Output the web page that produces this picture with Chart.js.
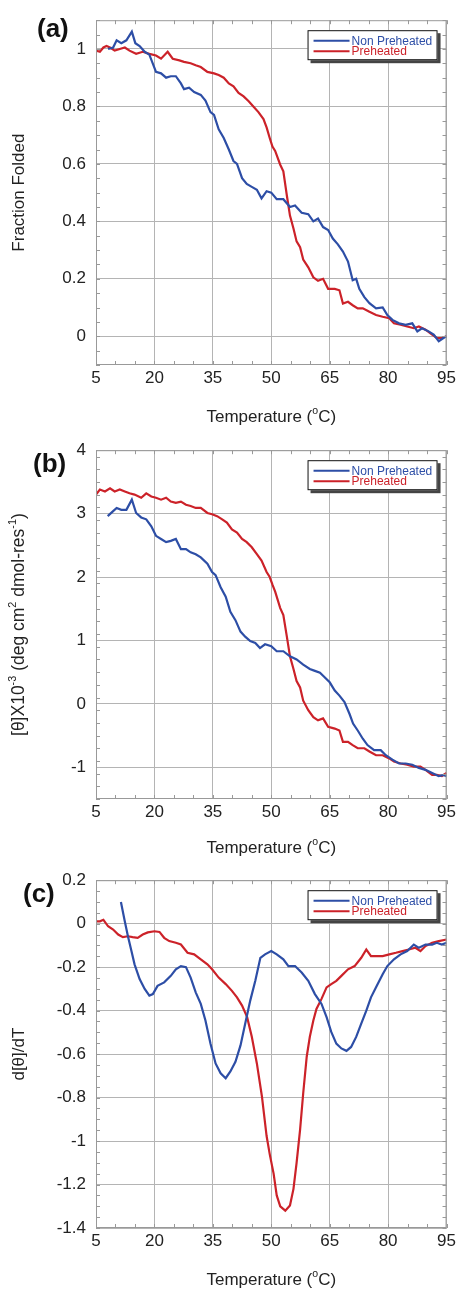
<!DOCTYPE html>
<html>
<head>
<meta charset="utf-8">
<script src="https://cdn.jsdelivr.net/npm/chart.js@4.4.1/dist/chart.umd.min.js"></script>
<style>
  html, body { margin: 0; padding: 0; background: #fff; }
  .panel { position: relative; width: 459px; }
</style>
</head>
<body>
<div class="panel" style="height:430px"><canvas id="chartA"></canvas></div>
<div class="panel" style="height:430px"><canvas id="chartB"></canvas></div>
<div class="panel" style="height:429px"><canvas id="chartC"></canvas></div>
<script>
// temperature axis
const tempTicks = [5, 20, 35, 50, 65, 80, 95];

// (a) fraction folded
const aNonT = [8.1, 9.4, 10.3, 11.5, 12.8, 14.2, 15.1, 16.2, 17.5, 18.7, 20.4, 21.7, 23, 24.2, 25.5, 26.8, 27.6, 28.9, 30.2, 31.9, 33.1, 34.4, 35.3, 36.5, 37.8, 39.1, 40.3, 41.2, 42.5, 43.7, 45, 46.3, 47.5, 48.8, 50, 51.4, 53.1, 54.8, 56.1, 57.8, 59.5, 60.8, 62, 63.3, 64.6, 65.8, 67.1, 68.4, 69.7, 70.9, 71.8, 72.6, 73.9, 75.2, 76.9, 78.6, 79.8, 81.1, 82.8, 84.5, 86.2, 87.5, 88.7, 90.4, 91.7, 93, 94.2, 95];
const aNonY = [1.0, 1.005, 1.03, 1.02, 1.03, 1.06, 1.02, 1.01, 0.99, 0.98, 0.92, 0.915, 0.9, 0.905, 0.905, 0.88, 0.86, 0.865, 0.85, 0.84, 0.82, 0.78, 0.77, 0.72, 0.69, 0.65, 0.61, 0.6, 0.55, 0.53, 0.52, 0.51, 0.48, 0.505, 0.5, 0.477, 0.477, 0.45, 0.455, 0.43, 0.425, 0.4, 0.41, 0.38, 0.37, 0.34, 0.32, 0.295, 0.26, 0.195, 0.2, 0.165, 0.136, 0.115, 0.097, 0.1, 0.074, 0.057, 0.045, 0.04, 0.045, 0.017, 0.028, 0.017, 0.006, -0.017, -0.006, 0];
const aPreT = [5, 6, 6.9, 7.7, 8.6, 9.8, 11.1, 12.4, 13.6, 15.3, 17, 18.7, 20.4, 21.7, 23.4, 24.7, 26.4, 27.6, 29.3, 30.6, 31.9, 33.6, 35.3, 36.5, 37.8, 39.1, 40.3, 41.6, 42.9, 44.2, 45.4, 46.7, 48, 48.8, 49.6, 50.3, 51, 52.3, 53.1, 54, 54.8, 55.7, 56.5, 57.4, 58.2, 59.5, 60.8, 62, 63.3, 64.6, 66.3, 67.5, 68.4, 69.7, 70.9, 72.2, 73.5, 75.2, 76.9, 78.6, 80.3, 81.5, 83.2, 84.9, 86.6, 87.9, 89.6, 91.3, 92.5, 93.8, 95];
const aPreY = [0.994, 0.99, 1.005, 1.01, 1.005, 0.994, 1.0, 1.005, 0.994, 0.983, 0.99, 0.983, 0.977, 0.966, 0.99, 0.966, 0.96, 0.955, 0.95, 0.943, 0.937, 0.92, 0.915, 0.909, 0.9, 0.88, 0.87, 0.847, 0.835, 0.818, 0.8, 0.78, 0.756, 0.727, 0.69, 0.66, 0.645, 0.597, 0.574, 0.49, 0.42, 0.375, 0.33, 0.31, 0.267, 0.24, 0.205, 0.193, 0.2, 0.165, 0.165, 0.16, 0.114, 0.12, 0.108, 0.097, 0.097, 0.085, 0.074, 0.068, 0.063, 0.045, 0.04, 0.034, 0.028, 0.034, 0.023, 0.006, -0.006, -0.006, 0];
const aTicks = [0, 0.2, 0.4, 0.6, 0.8, 1];

// (b) ellipticity
const bNonT = [8, 9.4, 10.3, 11.5, 12.8, 14.2, 15.3, 16.6, 17.9, 19.2, 20.4, 21.7, 23, 24.2, 25.5, 26.8, 28.1, 29.3, 30.6, 31.9, 33.6, 34.8, 35.7, 37, 38.3, 39.5, 40.8, 42.1, 43.3, 44.6, 45.9, 47.1, 48.4, 50, 51.4, 53.1, 54.8, 56.5, 58.2, 59.9, 61.2, 62.5, 63.7, 65, 66.3, 67.5, 68.8, 70.1, 71, 72.2, 73.5, 74.7, 76.4, 78.1, 79.4, 81.1, 82.8, 84.5, 86.2, 87.9, 89.6, 91.3, 93, 94.2, 95];
const bNonY = [2.96, 3.04, 3.09, 3.06, 3.06, 3.22, 3.01, 2.94, 2.91, 2.8, 2.65, 2.6, 2.55, 2.57, 2.6, 2.44, 2.44, 2.39, 2.36, 2.31, 2.21, 2.08, 2.03, 1.84, 1.69, 1.45, 1.32, 1.14, 1.06, 0.99, 0.96, 0.88, 0.94, 0.91, 0.83, 0.83, 0.75, 0.7, 0.62, 0.55, 0.52, 0.49, 0.42, 0.34, 0.21, 0.13, 0.03, -0.16, -0.31, -0.42, -0.55, -0.65, -0.73, -0.73, -0.81, -0.88, -0.94, -0.94, -0.96, -1.01, -1.04, -1.09, -1.14, -1.12, -1.14];
const bPreT = [5, 6, 7.3, 8.6, 9.8, 11.1, 12.4, 13.6, 14.9, 16.6, 17.9, 19.2, 20.4, 21.7, 23, 24.2, 25.5, 26.8, 28.1, 29.3, 30.6, 31.9, 33.6, 34.8, 36.1, 37.4, 38.6, 39.9, 41.2, 42.5, 43.7, 45, 46.3, 47.5, 48.8, 49.6, 50.3, 51, 52.3, 53.1, 54, 54.8, 55.7, 56.5, 57.4, 58.2, 59.5, 60.8, 62, 63.3, 64.6, 66.3, 67.5, 68.4, 69.7, 70.9, 72.2, 73.9, 75.2, 76.9, 78.6, 80.3, 81.5, 83.2, 84.9, 86.6, 88.3, 89.6, 91.3, 92.5, 93.8, 95];
const bPreY = [3.3, 3.38, 3.35, 3.4, 3.35, 3.38, 3.35, 3.32, 3.3, 3.25, 3.32, 3.27, 3.25, 3.22, 3.25, 3.19, 3.17, 3.19, 3.14, 3.12, 3.09, 3.09, 3.01, 2.99, 2.96, 2.91, 2.86, 2.75, 2.7, 2.6, 2.55, 2.47, 2.36, 2.26, 2.08, 2.0, 1.88, 1.77, 1.51, 1.4, 1.06, 0.75, 0.55, 0.36, 0.26, 0.05, -0.1, -0.21, -0.26, -0.23, -0.36, -0.39, -0.42, -0.6, -0.6, -0.65, -0.7, -0.7, -0.75, -0.81, -0.81, -0.86, -0.91, -0.94, -0.96, -0.99, -0.99, -1.04, -1.12, -1.12, -1.14, -1.09];
const bTicks = [-1, 0, 1, 2, 3, 4];

// (c) first derivative
const cNonT = [11.4, 12.4, 13.2, 14.1, 14.9, 16.2, 17.5, 18.7, 19.6, 20.8, 22.5, 24.2, 25.5, 26.8, 28.1, 29.3, 30.6, 31.9, 33.1, 34.4, 35.7, 37, 38.3, 39.5, 40.8, 42.1, 43.3, 44.6, 45.9, 47.2, 48.4, 50, 51.4, 53.1, 54.4, 56.1, 57.8, 59.5, 61.2, 62.9, 64.2, 65.4, 66.7, 68, 69.3, 70.5, 71.8, 73.1, 74.4, 75.6, 76.9, 78.6, 79.8, 81.5, 83.2, 84.9, 86.6, 87.9, 89.6, 91.3, 92.5, 93.8, 95];
const cNonY = [0.1, 0.01, -0.058, -0.126, -0.187, -0.255, -0.3, -0.331, -0.324, -0.286, -0.27, -0.24, -0.21, -0.195, -0.2, -0.248, -0.316, -0.369, -0.445, -0.552, -0.643, -0.688, -0.711, -0.68, -0.635, -0.56, -0.46, -0.354, -0.263, -0.157, -0.141, -0.126, -0.141, -0.164, -0.195, -0.195, -0.225, -0.263, -0.324, -0.369, -0.43, -0.498, -0.552, -0.574, -0.585, -0.567, -0.521, -0.46, -0.4, -0.339, -0.293, -0.233, -0.195, -0.164, -0.141, -0.126, -0.096, -0.111, -0.096, -0.096, -0.088, -0.096, -0.088];
const cPreT = [5, 6, 6.9, 8.1, 9.4, 10.7, 11.9, 13.2, 14.4, 15.7, 17, 18.3, 20, 21.3, 22.5, 23.8, 25.5, 26.8, 28.5, 30.2, 31.9, 33.6, 34.8, 36.5, 38.3, 39.9, 41.2, 42.5, 43.8, 45, 46.3, 47.6, 48.8, 49.6, 50.6, 51.4, 52.3, 53.6, 54.8, 55.7, 56.5, 57.4, 58.2, 59.1, 59.9, 60.8, 61.6, 62.9, 64.2, 65.4, 66.7, 68, 69.7, 71.4, 73.1, 74.4, 75.6, 76.9, 78.6, 80.3, 82, 83.7, 85.3, 87, 88.3, 89.6, 91.3, 93, 95];
const cPreY = [0.011, 0.011, 0.018, -0.012, -0.027, -0.05, -0.062, -0.058, -0.062, -0.065, -0.05, -0.04, -0.035, -0.038, -0.065, -0.08, -0.088, -0.096, -0.134, -0.141, -0.164, -0.187, -0.21, -0.248, -0.278, -0.309, -0.339, -0.377, -0.43, -0.52, -0.643, -0.795, -0.977, -1.06, -1.15, -1.25, -1.3, -1.32, -1.296, -1.22, -1.1, -0.947, -0.78, -0.612, -0.52, -0.445, -0.392, -0.346, -0.293, -0.278, -0.263, -0.24, -0.21, -0.195, -0.157, -0.119, -0.149, -0.149, -0.149, -0.141, -0.134, -0.126, -0.119, -0.111, -0.126, -0.103, -0.088, -0.08, -0.073];
const cTicks = [-1.4, -1.2, -1, -0.8, -0.6, -0.4, -0.2, 0, 0.2];

const BLUE = '#2d4ea6';
const RED = '#cc2229';
const GRID = '#b4b4b4';
const TEXT = '#222';
const FONT = '"Liberation Sans", Arial, Helvetica, sans-serif';

function zip(xs, ys) {
    const n = Math.min(xs.length, ys.length);
    const out = [];
    for (let i = 0; i < n; i++) out.push({ x: xs[i], y: ys[i] });
    return out;
}

// text with superscript pieces: [[text, isSup], ...], centred on x
function drawRich(ctx, parts, x, y, size) {
    const sup = size * 0.62;
    let w = 0;
    parts.forEach(p => {
        ctx.font = (p[1] ? sup : size) + 'px ' + FONT;
        w += ctx.measureText(p[0]).width;
    });
    let cx = x - w / 2;
    ctx.textAlign = 'left';
    ctx.textBaseline = 'middle';
    parts.forEach(p => {
        ctx.font = (p[1] ? sup : size) + 'px ' + FONT;
        ctx.fillText(p[0], cx, p[1] ? y - size * 0.36 : y);
        cx += ctx.measureText(p[0]).width;
    });
}

function decor(cfg) {
    return {
        id: 'decor',
        afterDraw(chart) {
            const ctx = chart.ctx;
            const a = chart.chartArea;
            const xs = chart.scales.x, ys = chart.scales.y;
            ctx.save();

            // frame + minor ticks
            ctx.strokeStyle = '#999';
            ctx.lineWidth = 1;
            ctx.strokeRect(a.left + 0.5, a.top + 0.5, a.right - a.left - 1, a.bottom - a.top - 1);
            ctx.beginPath();
            for (let v = 5; v <= 95; v += 5) {
                const px = Math.round(xs.getPixelForValue(v)) + 0.5;
                ctx.moveTo(px, a.bottom); ctx.lineTo(px, a.bottom - 4);
                ctx.moveTo(px, a.top); ctx.lineTo(px, a.top + 4);
            }
            for (let v = cfg.yMin; v <= cfg.yMax + 1e-9; v += cfg.yMinor) {
                const py = Math.round(ys.getPixelForValue(v)) + 0.5;
                ctx.moveTo(a.left, py); ctx.lineTo(a.left + 4, py);
                ctx.moveTo(a.right, py); ctx.lineTo(a.right - 4, py);
            }
            ctx.stroke();

            // legend box with drop shadow
            const bw = 130, bh = 30;
            const bx = a.right - bw - 9, by = a.top + 10;
            ctx.fillStyle = '#444';
            ctx.fillRect(bx + 3, by + 3, bw, bh);
            ctx.fillStyle = '#fff';
            ctx.fillRect(bx, by, bw, bh);
            ctx.strokeStyle = '#111';
            ctx.strokeRect(bx + 0.5, by + 0.5, bw - 1, bh - 1);
            chart.data.datasets.forEach((ds, i) => {
                const ly = by + 10.5 + i * 10.5;
                ctx.strokeStyle = ds.borderColor;
                ctx.lineWidth = 2;
                ctx.beginPath();
                ctx.moveTo(bx + 6, ly); ctx.lineTo(bx + 42, ly);
                ctx.stroke();
                ctx.fillStyle = ds.borderColor;
                ctx.font = '12px ' + FONT;
                ctx.textAlign = 'left';
                ctx.textBaseline = 'middle';
                ctx.fillText(ds.label, bx + 44, ly + 0.5);
            });

            // axis titles
            ctx.fillStyle = TEXT;
            drawRich(ctx, [['Temperature (', 0], ['o', 1], ['C)', 0]], (a.left + a.right) / 2, cfg.xTitleY, 17);
            ctx.save();
            ctx.translate(19, (a.top + a.bottom) / 2);
            ctx.rotate(-Math.PI / 2);
            drawRich(ctx, cfg.yTitle, 0, 0, cfg.yTitleSize);
            ctx.restore();

            // panel letter
            ctx.font = 'bold 26px ' + FONT;
            ctx.textAlign = 'left';
            ctx.textBaseline = 'alphabetic';
            ctx.fillStyle = '#111';
            ctx.fillText(cfg.letter, cfg.letterX, cfg.letterY);
            ctx.restore();
        }
    };
}

function makePanel(id, cfg) {
    const tickFont = { family: FONT, size: 17 };
    return new Chart(document.getElementById(id), {
        type: 'line',
        data: {
            datasets: [
                { label: 'Non Preheated', data: zip(cfg.nonT, cfg.nonY), borderColor: BLUE, borderWidth: 2.2, pointRadius: 0, tension: 0 },
                { label: 'Preheated', data: zip(cfg.preT, cfg.preY), borderColor: RED, borderWidth: 2.2, pointRadius: 0, tension: 0 }
            ]
        },
        options: {
            responsive: true,
            maintainAspectRatio: false,
            animation: false,
            layout: { padding: { top: cfg.top, right: 11, left: 0, bottom: 0 } },
            plugins: { legend: { display: false }, tooltip: { enabled: false } },
            scales: {
                x: {
                    type: 'linear', min: 5, max: 95,
                    afterBuildTicks: s => { s.ticks = tempTicks.map(v => ({ value: v })); },
                    ticks: { font: tickFont, color: TEXT, padding: 3, maxRotation: 0, autoSkip: false, callback: v => String(v) },
                    grid: { color: GRID, drawTicks: false },
                    border: { display: false },
                    afterFit: s => { s.height = cfg.xh; }
                },
                y: {
                    min: cfg.yMin, max: cfg.yMax,
                    afterBuildTicks: s => { s.ticks = cfg.ticks.map(v => ({ value: v })); },
                    ticks: { font: tickFont, color: TEXT, padding: 10, autoSkip: false, callback: v => String(v) },
                    grid: { color: GRID, drawTicks: false },
                    border: { display: false },
                    afterFit: s => { s.width = 96; }
                }
            }
        },
        plugins: [decor(cfg)]
    });
}

makePanel('chartA', {
    nonT: aNonT, nonY: aNonY, preT: aPreT, preY: aPreY, ticks: aTicks,
    yMin: -0.1, yMax: 1.1, yMinor: 0.05, top: 13, xh: 65, xTitleY: 417,
    yTitle: [['Fraction Folded', 0]], yTitleSize: 17,
    letter: '(a)', letterX: 37, letterY: 37
});
makePanel('chartB', {
    nonT: bNonT, nonY: bNonY, preT: bPreT, preY: bPreY, ticks: bTicks,
    yMin: -1.5, yMax: 4, yMinor: 0.2, top: 18, xh: 61, xTitleY: 418,
    yTitle: [['[\u03b8]X10', 0], ['-3', 1], [' (deg cm', 0], ['2', 1], [' dmol-res', 0], ['-1', 1], [')', 0]], yTitleSize: 17.5,
    letter: '(b)', letterX: 33, letterY: 42
});
makePanel('chartC', {
    nonT: cNonT, nonY: cNonY, preT: cPreT, preY: cPreY, ticks: cTicks,
    yMin: -1.4, yMax: 0.2, yMinor: 0.05, top: 18, xh: 61, xTitleY: 420,
    yTitle: [['d[\u03b8]/dT', 0]], yTitleSize: 17,
    letter: '(c)', letterX: 23, letterY: 42
});
</script>
</body>
</html>
